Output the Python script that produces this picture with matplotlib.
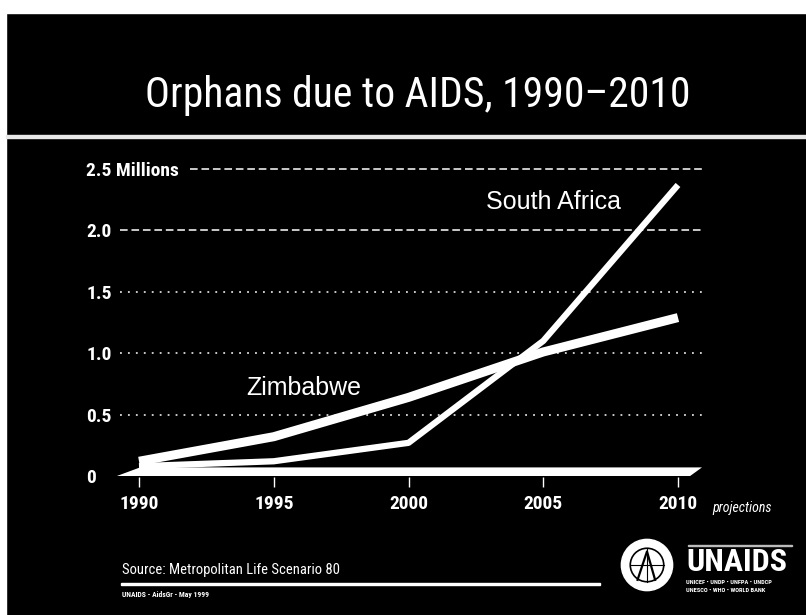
import matplotlib
matplotlib.use("Agg")
import matplotlib.pyplot as plt
from matplotlib import font_manager
from matplotlib.patches import Rectangle, Circle

# data (millions of orphans)
years = [1990, 1995, 2000, 2005, 2010]
zimbabwe = [0.12, 0.32, 0.64, 1.01, 1.29]
south_africa = [0.08, 0.12, 0.27, 1.10, 2.37]
ytick_vals = [0, 0.5, 1.0, 1.5, 2.0, 2.5]
ytick_labels = ["0", "0.5", "1.0", "1.5", "2.0", "2.5 Millions"]
dashed_levels = [2.0, 2.5]
dotted_levels = [0.5, 1.0, 1.5]
# thick base band under the series
base_x = [1989.18, 1990.04, 2010.89, 2010.45]
base_y = [0.0, 0.07, 0.07, 0.0]


def pick(names):
    for n in names:
        try:
            font_manager.findfont(font_manager.FontProperties(family=n), fallback_to_default=False)
            return n
        except Exception:
            pass
    return "DejaVu Sans"


narrow = pick(["Liberation Sans Narrow", "Roboto Condensed", "Liberation Sans"])
sans = pick(["Liberation Sans", "Arial", "DejaVu Sans"])

W, H = 806, 615
fig = plt.figure(figsize=(W / 100, H / 100), dpi=100, facecolor="black")


def fx(px):
    return px / W


def fy(py):
    return 1 - py / H


# white border strips and title rule
fig.patches.append(Rectangle((0, fy(13)), 1, 13 / H, transform=fig.transFigure, color="white", zorder=0))
fig.patches.append(Rectangle((0, 0), 6 / W, 1, transform=fig.transFigure, color="white", zorder=0))
fig.patches.append(Rectangle((fx(6), fy(138)), 1, 3 / H, transform=fig.transFigure, color="#e8e8e8", zorder=1))

fig.text(fx(418), fy(96), "Orphans due to AIDS, 1990\u20132010", color="white",
         fontsize=30, family=narrow, ha="center", va="center")

# axes placed so 1990->139px, 2010->678px, 0->476px, 2.5->169px
left, right, top, bottom = 100, 720, 160, 477
ax = fig.add_axes([fx(left), fy(bottom), (right - left) / W, (bottom - top) / H])
ax.set_facecolor("black")
px_year = (678 - 139) / 20
px_unit = (476 - 169) / 2.5
ax.set_xlim(1990 + (left - 139) / px_year, 1990 + (right - 139) / px_year)
ax.set_ylim((476 - bottom) / px_unit, (476 - top) / px_unit)
for s in ax.spines.values():
    s.set_visible(False)

x_grid0 = 1990 + (120 - 139) / px_year
x_grid_mil = 1990 + (190 - 139) / px_year
x_grid1 = 1990 + (702 - 139) / px_year
for lv in dashed_levels:
    x0 = x_grid_mil if lv == 2.5 else x_grid0
    ax.hlines(lv, x0, x_grid1, colors="white", linewidth=1.1, linestyles=(0, (5, 2.5)))
for lv in dotted_levels:
    ax.hlines(lv, x_grid0, x_grid1, colors="white", linewidth=1.1, linestyles=(0, (1.2, 4)))

ax.fill(base_x, base_y, color="white", lw=0, zorder=3)
ax.plot(years, zimbabwe, color="white", linewidth=6.5, solid_capstyle="butt", zorder=4)
ax.plot(years, south_africa, color="white", linewidth=4.5, solid_capstyle="butt", zorder=5)

ax.text(1990 + (246 - 139) / px_year, 0.715, "Zimbabwe", color="white", fontsize=18,
        family=sans, ha="left", va="center")
ax.text(1990 + (486 - 139) / px_year, 2.23, "South Africa", color="white", fontsize=18,
        family=sans, ha="left", va="center")

ax.set_xticks(years)
ax.set_xticklabels([str(y) for y in years], family=narrow, fontsize=14, fontweight="bold", color="white")
ax.tick_params(axis="x", colors="white", length=7, width=1, pad=6)
ax.set_yticks(ytick_vals)
ax.set_yticklabels(ytick_labels, family=narrow, fontsize=14, fontweight="bold", color="white")
ax.tick_params(axis="y", length=0, pad=10)
for lab in ax.get_yticklabels():
    lab.set_horizontalalignment("left")

fig.text(fx(712), fy(508), "projections", color="white", fontsize=10, family=narrow,
         style="italic", ha="left", va="center")

# footer
fig.text(fx(122), fy(570), "Source: Metropolitan Life Scenario 80", color="white",
         fontsize=10.5, family=narrow, ha="left", va="center")
fig.patches.append(Rectangle((fx(121), fy(585)), (600 - 121) / W, 2.5 / H,
                             transform=fig.transFigure, color="white"))
fig.text(fx(122), fy(595), "UNAIDS - AidsGr - May 1999", color="white", fontsize=5.5,
         family=narrow, fontweight="bold", ha="left", va="center")

# UNAIDS logo
fig.text(fx(686), fy(562), "UNAIDS", color="white", fontsize=23, family=narrow,
         fontweight="bold", ha="left", va="center")
fig.text(fx(686), fy(582), "UNICEF \u2022 UNDP \u2022 UNFPA \u2022 UNDCP", color="white",
         fontsize=4.6, family=narrow, fontweight="bold", ha="left", va="center")
fig.text(fx(686), fy(591), "UNESCO \u2022 WHO \u2022 WORLD BANK", color="white",
         fontsize=4.6, family=narrow, fontweight="bold", ha="left", va="center")
fig.patches.append(Rectangle((fx(688), fy(546)), (792 - 688) / W, 1 / H,
                             transform=fig.transFigure, color="#bbbbbb"))
lax = fig.add_axes([fx(620), fy(592), 54 / W, 54 / H])
lax.set_xlim(-1, 1)
lax.set_ylim(-1, 1)
lax.set_aspect("equal")
lax.axis("off")
lax.add_patch(Circle((0, 0), 0.95, color="white"))
lax.add_patch(Circle((0, 0), 0.62, fill=False, ec="black", lw=1.2))
lax.plot([-0.35, 0.0, 0.3], [-0.55, 0.5, -0.55], color="black", lw=1.6)
lax.plot([-0.62, 0.62], [0, 0], color="black", lw=0.8)
lax.plot([0, 0], [-0.62, 0.62], color="black", lw=0.8)

fig.savefig("out.png", dpi=100, facecolor="black")
